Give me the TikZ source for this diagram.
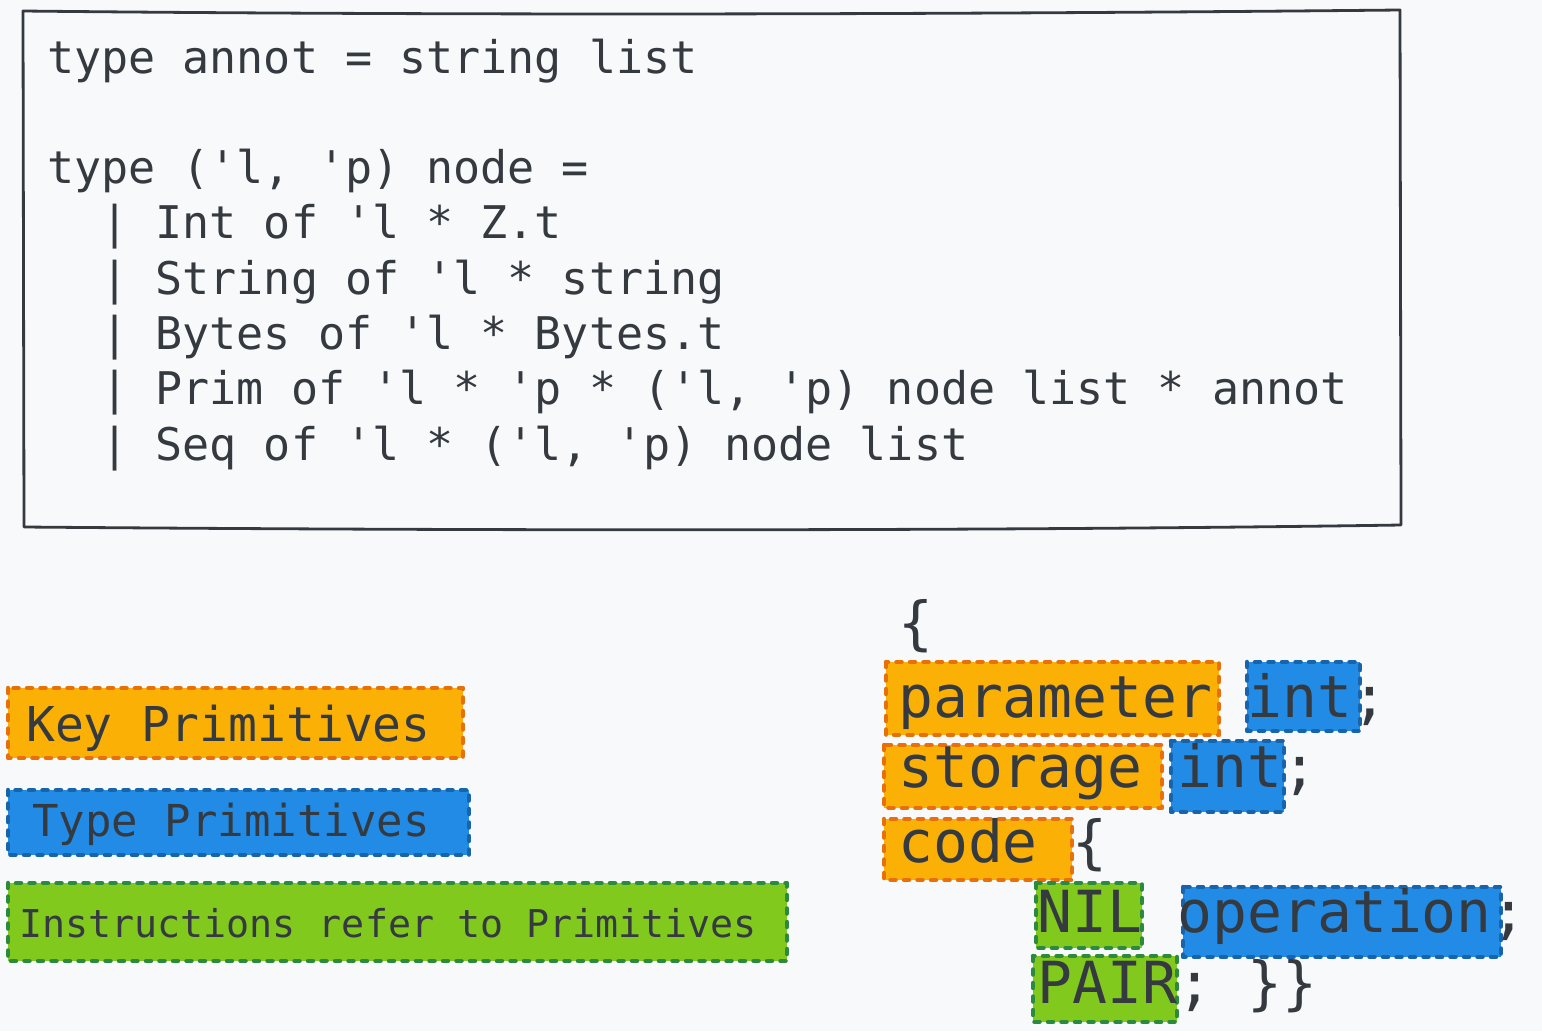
\documentclass[tikz,border=0pt]{standalone}
\usepackage{fontspec}
\setmonofont{DejaVu Sans Mono}
\usepackage{tikz}
\usetikzlibrary{calc}

\definecolor{ink}{HTML}{343A40}
\definecolor{paper}{HTML}{F8F9FA}
\definecolor{keyfill}{HTML}{FAB005}
\definecolor{keyline}{HTML}{E8700C}
\definecolor{typefill}{HTML}{228BE6}
\definecolor{typeline}{HTML}{1864AB}
\definecolor{instrfill}{HTML}{82C91E}
\definecolor{instrline}{HTML}{2B8A3E}

\tikzset{
  codeline/.style={anchor=base west, inner sep=0pt, text=ink,
                   font=\ttfamily\frenchspacing\fontsize{45}{55}\selectfont},
  bigcode/.style={codeline, font=\ttfamily\frenchspacing\fontsize{58}{70}\selectfont},
  hlbox/.style={line width=4.5pt, dash pattern=on 5pt off 8.5pt, line cap=round, line join=round},
  keybox/.style={hlbox, fill=keyfill, draw=keyline},
  typebox/.style={hlbox, fill=typefill, draw=typeline},
  instrbox/.style={hlbox, fill=instrfill, draw=instrline}
}

\begin{document}
\begin{tikzpicture}[x=1pt,y=-1pt]
\fill[paper] (0,0) rectangle (1542,1031);
\useasboundingbox (0,0) rectangle (1542,1031);

% type definition
\draw[ink, line width=2.8pt, line join=round]
      (23,11) .. controls (500,16) and (1000,14) .. (1400,10) --
      (1401,525) .. controls (1000,531) and (500,531) .. (24,527) -- cycle;

\foreach \txt [count=\i from 0] in {
    {type annot = string list},
    {},
    {type ('l, 'p) node =},
    {\ \ | Int of 'l * Z.t},
    {\ \ | String of 'l * string},
    {\ \ | Bytes of 'l * Bytes.t},
    {\ \ | Prim of 'l * 'p * ('l, 'p) node list * annot},
    {\ \ | Seq of 'l * ('l, 'p) node list}}
    \node[codeline] (ln\i) at (47,{73+55.3*\i}) {\txt};

% legend
\filldraw[keybox]   (8,688) rectangle (463,758);
\filldraw[typebox]  (8,790) rectangle (469,855);
\filldraw[instrbox] (8,883) rectangle (787,961);

\node[codeline, font=\ttfamily\fontsize{48}{55}\selectfont]   (keyleg)   at (26,741) {Key Primitives};
\node[codeline, font=\ttfamily\fontsize{44}{55}\selectfont]   (typeleg)  at (32,836) {Type Primitives};
\node[codeline, font=\ttfamily\fontsize{38.3}{45}\selectfont] (instrleg) at (19,937) {Instructions refer to Primitives};

% michelson contract
\filldraw[keybox]   (886,662)  rectangle (1219,735);
\filldraw[typebox]  (1247,662) rectangle (1360,731);
\filldraw[keybox]   (884,745)  rectangle (1162,808);
\filldraw[typebox]  (1171,741) rectangle (1284,812);
\filldraw[keybox]   (884,819)  rectangle (1072,880);
\filldraw[instrbox] (1036,883) rectangle (1142,948);
\filldraw[typebox]  (1183,887) rectangle (1501,957);
\filldraw[instrbox] (1033,956) rectangle (1177,1022);

\foreach \y/\txt [count=\i from 0] in {
    643/\{,
    717/{parameter int;},
    787/{storage int;},
    862/{code \{},
    932/{\ \ \ \ NIL operation;},
    1003/{\ \ \ \ PAIR; \}\}}}
    \node[bigcode] (cl\i) at (898,\y) {\txt};
\end{tikzpicture}
\end{document}
